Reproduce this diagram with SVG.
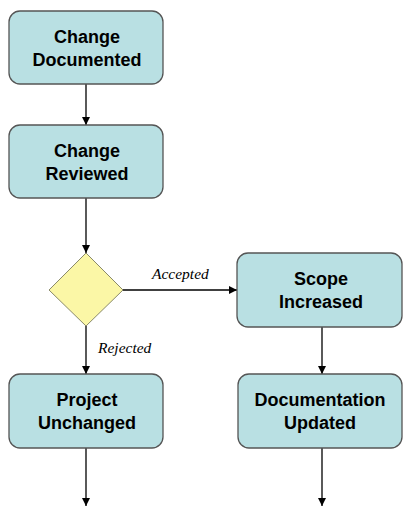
<svg xmlns="http://www.w3.org/2000/svg" width="403" height="506" viewBox="0 0 403 506">
  <defs>
    <marker id="arrow" viewBox="0 0 10 10" refX="10" refY="5" markerWidth="8" markerHeight="8" markerUnits="userSpaceOnUse" orient="auto">
      <path d="M0,0 L10,5 L0,10 z" fill="#000"/>
    </marker>
    <style>
      .box { fill: #b9e0e3; stroke: #555; stroke-width: 1.3; }
      .dec { fill: #fbf7a6; stroke: #8a8a6a; stroke-width: 1; }
      .lbl { font-family: "Liberation Sans", Arial, sans-serif; font-weight: bold; font-size: 18px; fill: #000; text-anchor: middle; }
      .edge { font-family: "Liberation Serif", "Times New Roman", serif; font-style: italic; font-size: 15.5px; fill: #000; }
      .conn { stroke: #000; stroke-width: 1.3; fill: none; marker-end: url(#arrow); }
    </style>
  </defs>
  <rect width="403" height="506" fill="#fff"/>

  <g id="connectors">
    <line class="conn" x1="86" y1="84" x2="86" y2="125"/>
    <line class="conn" x1="86" y1="198" x2="86" y2="253"/>
    <line class="conn" x1="123" y1="290" x2="237" y2="290"/>
    <line class="conn" x1="86" y1="326" x2="86" y2="374"/>
    <line class="conn" x1="322" y1="327" x2="322" y2="374"/>
    <line class="conn" x1="86" y1="448" x2="86" y2="506"/>
    <line class="conn" x1="322" y1="448" x2="322" y2="506"/>
    <text class="edge" x="152" y="279">Accepted</text>
    <text class="edge" x="98" y="353">Rejected</text>
  </g>

  <g id="change-documented">
    <rect class="box" x="9" y="11" width="154" height="73" rx="11"/>
    <text class="lbl" x="87" y="43">Change</text>
    <text class="lbl" x="87" y="66">Documented</text>
  </g>

  <g id="change-reviewed">
    <rect class="box" x="9" y="125" width="154" height="73" rx="11"/>
    <text class="lbl" x="87" y="157">Change</text>
    <text class="lbl" x="87" y="180">Reviewed</text>
  </g>

  <g id="decision">
    <polygon class="dec" points="86,253 123,290 86,326 49,290"/>
  </g>

  <g id="scope-increased">
    <rect class="box" x="237" y="253" width="165" height="74" rx="11"/>
    <text class="lbl" x="321" y="285">Scope</text>
    <text class="lbl" x="321" y="308">Increased</text>
  </g>

  <g id="project-unchanged">
    <rect class="box" x="9" y="374" width="154" height="74" rx="11"/>
    <text class="lbl" x="87" y="406">Project</text>
    <text class="lbl" x="87" y="429">Unchanged</text>
  </g>

  <g id="documentation-updated">
    <rect class="box" x="238" y="374" width="164" height="74" rx="11"/>
    <text class="lbl" x="320" y="406">Documentation</text>
    <text class="lbl" x="320" y="429">Updated</text>
  </g>
</svg>
